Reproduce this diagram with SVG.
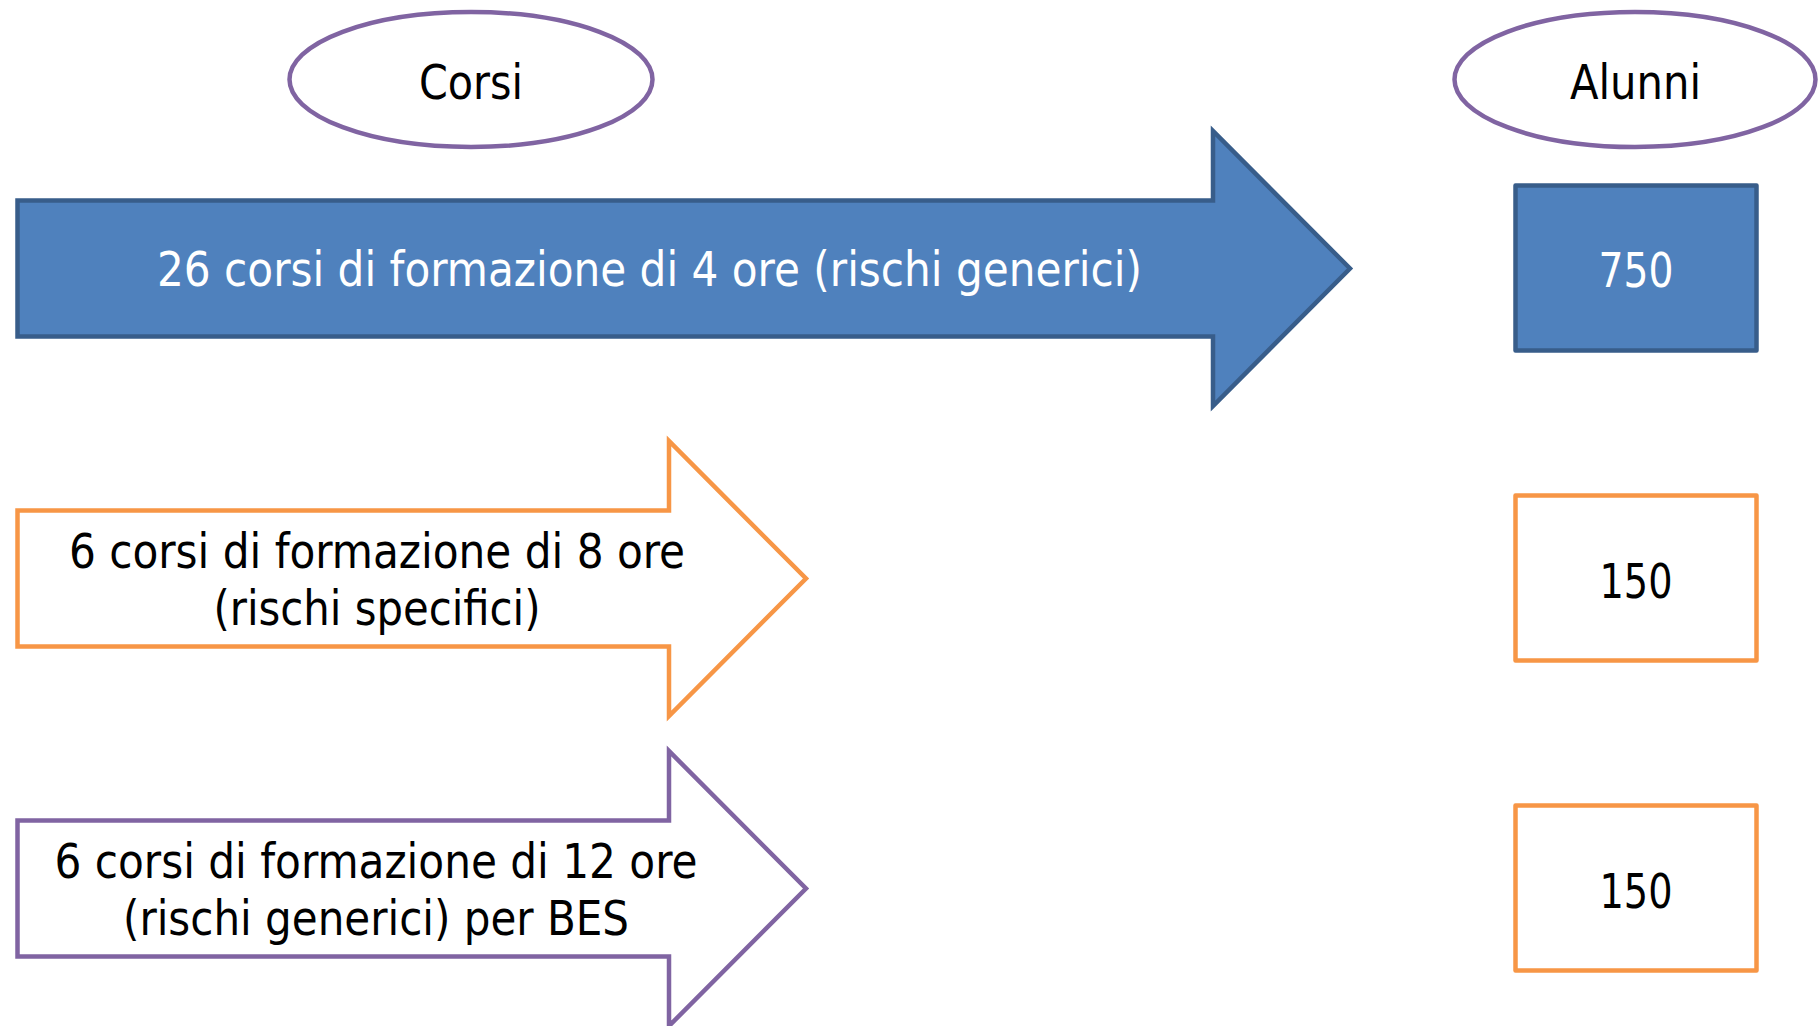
<svg xmlns="http://www.w3.org/2000/svg" width="1818" height="1026" viewBox="0 0 1818 1026">
<style>
  .t{font-family:"DejaVu Sans Condensed","DejaVu Sans","Liberation Sans",sans-serif;font-stretch:condensed;font-size:48px;text-anchor:middle;fill:#000}
  .w{fill:#fff}
  .ell{fill:#fff;stroke:#8064A2;stroke-width:4.5}
  .blue{fill:#4F81BD;stroke:#385D8A;stroke-width:4.5}
  .orange{fill:#fff;stroke:#F79646;stroke-width:4.5}
  .purple{fill:#fff;stroke:#8064A2;stroke-width:4.5}
  .box{stroke-linejoin:round}
</style>
<rect width="1818" height="1026" fill="#fff"/>
<g id="corsi">
  <ellipse class="ell" cx="471" cy="79.5" rx="181.5" ry="67.5"/>
  <text class="t" x="471" y="99" textLength="104" lengthAdjust="spacingAndGlyphs">Corsi</text>
</g>
<g id="alunni">
  <ellipse class="ell" cx="1635" cy="79.5" rx="180.5" ry="67.5"/>
  <text class="t" x="1635.5" y="99" textLength="131" lengthAdjust="spacingAndGlyphs">Alunni</text>
</g>
<g id="arrow-4ore">
  <path class="blue" d="M17.5,200.5 H1213 V131 L1350,268.5 L1213,406 V336.5 H17.5 Z"/>
  <text class="t w" x="649.5" y="286" textLength="985" lengthAdjust="spacingAndGlyphs">26 corsi di formazione di 4 ore (rischi generici)</text>
</g>
<g id="arrow-8ore">
  <path class="orange" d="M17.5,510.5 H669 V441 L806,578.5 L669,716 V646.5 H17.5 Z"/>
  <text class="t" x="377" y="568" textLength="616" lengthAdjust="spacingAndGlyphs">6 corsi di formazione di 8 ore</text>
  <text class="t" x="377" y="625" textLength="327" lengthAdjust="spacingAndGlyphs">(rischi specifici)</text>
</g>
<g id="arrow-12ore">
  <path class="purple" d="M17.5,820.5 H669 V751 L806,888.5 L669,1026 V956.5 H17.5 Z"/>
  <text class="t" x="376" y="878" textLength="643" lengthAdjust="spacingAndGlyphs">6 corsi di formazione di 12 ore</text>
  <text class="t" x="376" y="935" textLength="506" lengthAdjust="spacingAndGlyphs">(rischi generici) per BES</text>
</g>
<g id="box-750">
  <rect class="blue box" x="1515.5" y="185.5" width="241" height="165"/>
  <text class="t w" x="1636" y="287" textLength="75" lengthAdjust="spacingAndGlyphs">750</text>
</g>
<g id="box-150a">
  <rect class="orange box" x="1515.5" y="495.5" width="241" height="165"/>
  <text class="t" x="1636" y="598" textLength="73" lengthAdjust="spacingAndGlyphs">150</text>
</g>
<g id="box-150b">
  <rect class="orange box" x="1515.5" y="805.5" width="241" height="165"/>
  <text class="t" x="1636" y="908" textLength="73" lengthAdjust="spacingAndGlyphs">150</text>
</g>
<g id="connectors"></g>
</svg>
